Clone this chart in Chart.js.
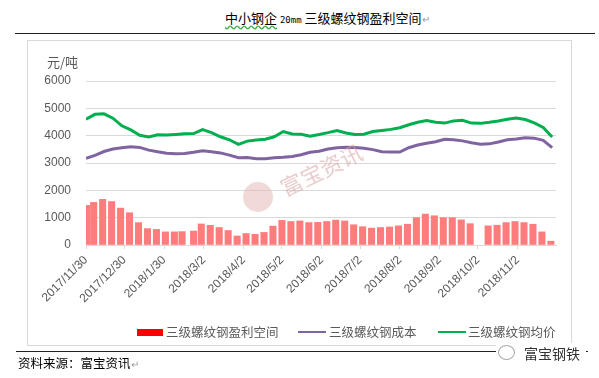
<!DOCTYPE html>
<html>
<head>
<meta charset="utf-8">
<script src="https://cdn.jsdelivr.net/npm/chart.js@4.4.1/dist/chart.umd.min.js"></script>
<style>
    body {
        margin: 0;
        width: 599px;
        height: 378px;
        position: relative;
        overflow: hidden;
        background: #fff;
        font-family: 'Noto Sans CJK SC', 'Liberation Sans', sans-serif;
    }
    .title {
        position: absolute;
        left: 225px;
        top: 9px;
        font-size: 13px;
        line-height: 18px;
        color: #000;
        white-space: nowrap;
    }
    .title .wavy {
        text-decoration: underline wavy #3cb043;
        text-underline-offset: 2px;
    }
    .title small { font-size: 9px; font-family: 'DejaVu Sans Mono', monospace; }
    .mark { color: #999; font-size: 10px; }
    .rule { position: absolute; height: 1px; background: #222; }
    .box {
        position: absolute;
        left: 27px;
        top: 40px;
        width: 545px;
        height: 306px;
        border: 1px solid #d9d9d9;
        box-sizing: border-box;
    }
    .box canvas { position: absolute; left: 0; top: 0; }
    .unit {
        position: absolute;
        left: 47px;
        top: 52px;
        font-size: 13px;
        color: #595959;
    }
    .legend span { position: absolute; }
    .legend .txt { font-size: 12.5px; line-height: 16px; top: 324px; color: #595959; white-space: nowrap; }
    .source {
        position: absolute;
        left: 18px;
        top: 354px;
        font-size: 12.5px;
        line-height: 17px;
        color: #000;
    }
    .wm {
        position: absolute;
        left: 281px;
        top: 172px;
        font-size: 22px;
        color: rgba(215, 160, 160, 0.55);
        transform: rotate(-26deg);
        transform-origin: left center;
        white-space: nowrap;
    }
    .logo {
        position: absolute;
        left: 243px;
        top: 182px;
        width: 30px;
        height: 30px;
        border-radius: 50%;
        background: rgba(225, 180, 175, 0.5);
    }
    .brand {
        position: absolute;
        left: 496px;
        top: 343px;
        width: 90px;
        height: 20px;
        background: #fff;
        font-size: 14px;
        line-height: 20px;
        color: #333;
    }
    .brand i {
        position: absolute;
        left: 2px;
        top: 2px;
        width: 15px;
        height: 13px;
        border: 1px solid #aaa;
        border-radius: 50%;
    }
    .brand b { position: absolute; left: 28px; font-weight: normal; }
</style>
</head>
<body>
<div class="title"><span class="wavy">中小钢企</span> <small>20mm</small> 三级螺纹钢盈利空间<span class="mark">↵</span></div>
<div class="rule" style="left:15px; top:33px; width:580px"></div>

<div class="box"><canvas id="chart-profit" width="543" height="304"></canvas></div>
<div class="unit">元/吨</div>
<div class="logo"></div>
<div class="wm">富宝资讯</div>

<div class="legend">
    <span style="left:137px; top:329px; width:26px; height:7px; background:#ff0000"></span>
    <span class="txt" style="left:166px">三级螺纹钢盈利空间</span>
    <span style="left:298px; top:331px; width:28px; height:2px; background:#8064a2"></span>
    <span class="txt" style="left:329px">三级螺纹钢成本</span>
    <span style="left:438px; top:331px; width:28px; height:2px; background:#00b050"></span>
    <span class="txt" style="left:468px">三级螺纹钢均价</span>
</div>

<div class="rule" style="left:16px; top:351px; width:572px"></div>
<div class="source">资料来源：富宝资讯<span class="mark">↵</span></div>
<div class="brand"><i></i><b>富宝钢铁</b></div>

<script>
// x values are days counted from 2017/11/30
const tickDays = [0, 30, 61, 92, 123, 153, 184, 214, 245, 276, 306, 337]
const tickLabels = [
    '2017/11/30', '2017/12/30', '2018/1/30', '2018/3/2', '2018/4/2', '2018/5/2',
    '2018/6/2', '2018/7/2', '2018/8/2', '2018/9/2', '2018/10/2', '2018/11/2',
]

// weekly bars (holiday weeks left out)
const barDays = [
    0.5, 6, 13, 20, 27, 34, 41, 48, 55, 62, 69, 75, 84, 90, 97, 104, 111, 118,
    125, 132, 139, 146, 153, 160, 167, 174, 181, 188, 195, 202, 209, 216, 223,
    230, 237, 244, 251, 258, 265, 272, 279, 286, 293, 300, 314, 321, 328, 335,
    342, 349, 356, 363,
]
const profit = [
    1450, 1560, 1670, 1590, 1350, 1180, 820, 600, 570, 480, 480, 490, 510, 770,
    720, 640, 530, 330, 420, 390, 460, 690, 900, 860, 880, 820, 830, 860, 910,
    880, 740, 670, 620, 640, 660, 700, 760, 1000, 1130, 1070, 1000, 1000, 920,
    780, 700, 725, 820, 860, 820, 760, 480, 140,
]

const lineDays = [
    0, 7, 14, 21, 28, 35, 42, 49, 56, 63, 70, 77, 84, 91, 98, 105, 112, 119,
    126, 133, 140, 147, 154, 161, 168, 175, 182, 189, 196, 203, 210, 217, 224,
    231, 238, 245, 252, 259, 266, 273, 280, 287, 294, 301, 308, 315, 322, 329,
    336, 343, 350, 357, 364,
]
const avgPrice = [
    4600, 4780, 4800, 4640, 4360, 4210, 4015, 3950, 4030, 4020, 4045, 4070, 4075,
    4220, 4110, 3960, 3850, 3680, 3800, 3840, 3870, 3960, 4150, 4060, 4050, 3980,
    4040, 4110, 4190, 4100, 4040, 4050, 4150, 4190, 4230, 4290, 4400, 4490, 4550,
    4490, 4460, 4540, 4560, 4460, 4450, 4490, 4540, 4600, 4650, 4590, 4470, 4300,
    3950,
]
const cost = [
    3170, 3280, 3420, 3510, 3560, 3595, 3570, 3470, 3410, 3360, 3340, 3350, 3390,
    3450, 3410, 3370, 3290, 3190, 3200, 3160, 3160, 3190, 3210, 3240, 3300, 3390,
    3430, 3510, 3560, 3580, 3570, 3540, 3490, 3410, 3400, 3400, 3560, 3660, 3720,
    3780, 3870, 3850, 3810, 3740, 3690, 3700, 3770, 3850, 3880, 3920, 3910, 3830,
    3560,
]

Chart.defaults.font.family = "'Liberation Sans', 'Noto Sans CJK SC', sans-serif"
Chart.defaults.color = '#595959'

const ctx = document.getElementById('chart-profit').getContext('2d')
const chartProfit = new Chart(ctx, {
    type: 'bar',
    data: {
        datasets: [
            {
                type: 'line',
                label: '三级螺纹钢均价',
                data: lineDays.map((d, i) => ({ x: d, y: avgPrice[i] })),
                borderColor: '#00b050',
                borderWidth: 3,
                pointRadius: 0,
                tension: 0,
            },
            {
                type: 'line',
                label: '三级螺纹钢成本',
                data: lineDays.map((d, i) => ({ x: d, y: cost[i] })),
                borderColor: '#8064a2',
                borderWidth: 3,
                pointRadius: 0,
                tension: 0,
            },
            {
                type: 'bar',
                label: '三级螺纹钢盈利空间',
                data: barDays.map((d, i) => ({ x: d, y: profit[i] })),
                backgroundColor: '#ff7c7c',
                barThickness: 6.4,
                clip: 0,
            },
        ],
    },
    options: {
        responsive: false,
        animation: false,
        devicePixelRatio: 1,
        layout: {
            padding: { top: 40, right: 15, left: 0, bottom: 0 },
        },
        plugins: {
            legend: { display: false },
            tooltip: { enabled: false },
        },
        scales: {
            x: {
                type: 'linear',
                min: 0,
                max: 367,
                offset: false,
                afterBuildTicks: (scale) => {
                    scale.ticks = tickDays.map((v) => ({ value: v }))
                },
                afterFit: (scale) => {
                    scale.height = 100
                },
                ticks: {
                    autoSkip: false,
                    minRotation: 45,
                    maxRotation: 45,
                    padding: 4,
                    font: { size: 12 },
                    callback: (v, i) => tickLabels[i],
                },
                grid: {
                    offset: false,
                    drawOnChartArea: false,
                    tickLength: 4,
                    color: '#d9d9d9',
                },
                border: { color: '#d9d9d9' },
            },
            y: {
                min: 0,
                max: 6000,
                afterFit: (scale) => {
                    scale.width = 58
                },
                ticks: {
                    stepSize: 1000,
                    padding: 15,
                    font: { size: 12 },
                    callback: (v) => String(v),
                },
                grid: { color: '#d9d9d9', drawTicks: false },
                border: { display: false },
            },
        },
    },
})
</script>
</body>
</html>
